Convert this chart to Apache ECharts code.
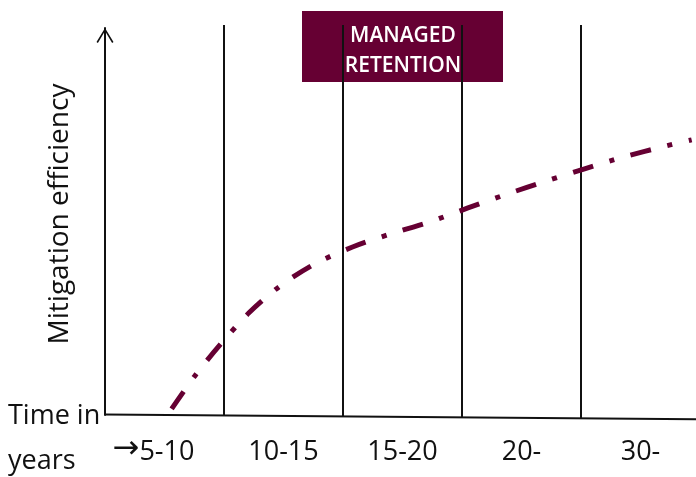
<!DOCTYPE html>
<html>
<head>
<meta charset="utf-8">
<script src="https://cdn.jsdelivr.net/npm/echarts@6/dist/echarts.min.js"></script>
<style>
  html, body { margin: 0; padding: 0; background: #fff; }
  #chart { width: 696px; height: 477px; }
</style>
</head>
<body>
<div id="chart"></div>
<script>
// time bands along the bottom axis
const periods = ['5-10', '10-15', '15-20', '20-', '30-'];
// band boundaries, in band units from the origin
const boundaries = [1, 2, 3, 4];
// mitigation efficiency curve (x in band units, y as share of the axis height)
const curveX = [0.56, 0.76, 0.98, 1.21, 1.47, 1.76, 2.08, 2.40, 2.73, 3.05, 3.38, 3.71, 4.03, 4.36, 4.71, 4.93];
const curveY = [0.016, 0.103, 0.186, 0.264, 0.333, 0.390, 0.434, 0.468, 0.499, 0.535, 0.571, 0.605, 0.636, 0.667, 0.695, 0.711];
// the hand-drawn baseline drops a little towards the right
const baselineX = [0, 5];
const baselineY = [0.001, -0.011];
const boundaryTop = 1.008;
const bandLabel = 'MANAGED\nRETENTION';

const MAROON = '#660033';
const INK = '#111';
const FONT = '"Open Sans", "Noto Sans", sans-serif';

const chart = echarts.init(document.getElementById('chart'), null, { renderer: 'canvas' });

// y of the baseline under a given x, so the boundaries meet it
const baseAt = x => baselineY[0] + (baselineY[1] - baselineY[0]) * (x - baselineX[0]) / (baselineX[1] - baselineX[0]);

const plain = { symbol: 'none', silent: true, clip: false, animation: false, xAxisIndex: 0 };

const series = [
  {
    ...plain,
    type: 'line',
    data: baselineX.map((x, i) => [x, baselineY[i]]),
    lineStyle: { color: INK, width: 2 },
  },
  ...boundaries.map(b => ({
    ...plain,
    type: 'line',
    data: [[b, baseAt(b)], [b, boundaryTop]],
    lineStyle: { color: INK, width: 2 },
  })),
  {
    ...plain,
    type: 'line',
    smooth: 0.3,
    data: curveX.map((x, i) => [x, curveY[i]]),
    lineStyle: { color: MAROON, width: 5, type: [21, 17, 5, 17], cap: 'butt' },
    z: 5,
  },
];

chart.setOption({
  backgroundColor: '#fff',
  animation: false,
  grid: { left: 105, width: 595, top: 28, bottom: 62, containLabel: false, outerBoundsMode: 'none' },
  xAxis: [
    { type: 'value', min: 0, max: 5, show: false, position: 'top' },
    {
      type: 'category',
      position: 'bottom',
      data: periods,
      boundaryGap: true,
      axisLine: { show: false },
      axisTick: { show: false },
      axisLabel: {
        interval: 0,
        hideOverlap: false,
        margin: 37,
        verticalAlign: 'middle',
        color: INK,
        fontSize: 27,
        fontFamily: FONT,
        formatter: (v, i) => i === 0 ? '{arr|\u2192}' + v + '{pad|}' : v,
        rich: {
          arr: { fontSize: 32, fontFamily: 'DejaVu Sans', color: INK, padding: [0, 0, 4, 0] },
          pad: { width: 22 },
        },
      },
    },
  ],
  yAxis: {
    type: 'value',
    min: 0,
    max: 1,
    name: 'Mitigation efficiency',
    nameLocation: 'middle',
    nameGap: 31,
    nameTextStyle: { color: INK, fontSize: 28, fontFamily: FONT, padding: [0, 0, 0, 15] },
    axisLine: {
      show: true,
      symbol: ['none', 'path://M0,14 L8.5,0 L17,14 L15.6,15 L8.5,3 L1.4,15 Z'],
      symbolSize: [17, 15],
      symbolOffset: [0, -7.5],
      lineStyle: { color: INK, width: 2 },
    },
    axisTick: { show: false },
    axisLabel: { show: false },
    splitLine: { show: false },
  },
  graphic: [
    {
      type: 'group',
      z: 100,
      children: [
        { type: 'rect', shape: { x: 302, y: 11, width: 201, height: 71 }, style: { fill: MAROON } },
        {
          type: 'text', x: 403, y: 51,
          style: {
            text: bandLabel, fill: '#fff', font: '600 21px ' + FONT, lineHeight: 30,
            align: 'center', verticalAlign: 'middle',
          },
        },
      ],
    },
    { type: 'text', x: 8, y: 416, style: { text: 'Time in', fill: INK, font: '27px ' + FONT, verticalAlign: 'middle' } },
    { type: 'text', x: 8, y: 461, style: { text: 'years', fill: INK, font: '27px ' + FONT, verticalAlign: 'middle' } },
  ],
  series,
});

window.addEventListener('resize', () => chart.resize());
</script>
</body>
</html>
